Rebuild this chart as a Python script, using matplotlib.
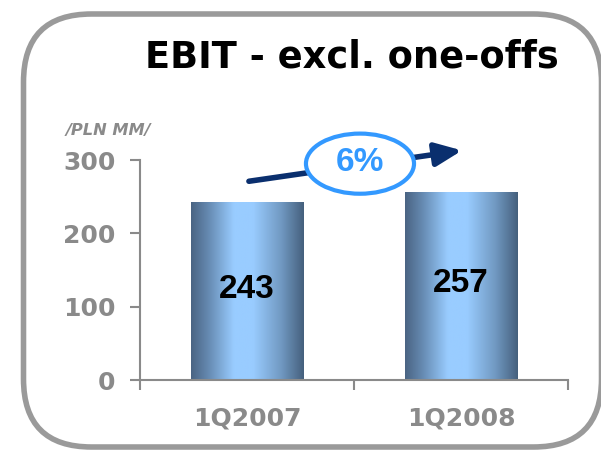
import numpy as np
import matplotlib
matplotlib.use("Agg")
import matplotlib.pyplot as plt
from matplotlib.colors import LinearSegmentedColormap
from matplotlib.patches import FancyBboxPatch, Ellipse

categories = ["1Q2007", "1Q2008"]
values = [243, 257]
growth_label = "6%"
yticks = [0, 100, 200, 300]

plt.rcParams['font.family'] = ['DejaVu Sans']
arial = ['Liberation Sans', 'DejaVu Sans']
gray = "#8a8a8a"

fig = plt.figure(figsize=(6.01, 4.5), dpi=100)
ax = fig.add_axes([140 / 601, 70 / 450, 428 / 601, 220 / 450])

# rounded frame around the whole panel
frame = FancyBboxPatch((0.235, 0.03), 5.78, 4.33,
                       boxstyle="round,pad=0,rounding_size=0.68",
                       transform=fig.dpi_scale_trans, fill=False,
                       edgecolor="#9a9a9a", linewidth=4.0, clip_on=False)
fig.patches.append(frame)

cmap = LinearSegmentedColormap.from_list("bar", [
    (0.0, "#4a6483"), (0.15, "#6589b0"), (0.38, "#99ccff"),
    (0.55, "#99ccff"), (0.8, "#7199c2"), (1.0, "#45607d")])
grad = np.linspace(0, 1, 256).reshape(1, -1)

x = np.arange(len(categories))
width = 0.525
bars = ax.bar(x, values, width=width, color="none", edgecolor="none", zorder=2)
for b in bars:
    x0, y0 = b.get_x(), b.get_y()
    im = ax.imshow(grad, cmap=cmap, aspect="auto", zorder=2,
                   extent=[x0, x0 + b.get_width(), y0, y0 + b.get_height()])
    im.set_clip_path(b)

for xi, v in zip(x, values):
    ax.text(xi, v * 0.51, str(v), ha="center", va="center", family=arial,
            fontsize=24, fontweight="bold", color="black", zorder=3)

ax.set_xlim(-0.5, 1.5)
ax.set_ylim(0, 300)
ax.set_yticks(yticks)
ax.set_yticklabels([str(t) for t in yticks])
ax.set_xticks(x)
ax.set_xticklabels(categories)
ax.set_xticks([-0.5, 0.5, 1.5], minor=True)
ax.tick_params(axis="y", direction="out", length=7, width=1.5, color=gray,
               pad=10.5, labelsize=18, labelcolor=gray)
ax.tick_params(axis="x", which="major", length=0, pad=19, labelsize=18,
               labelcolor=gray)
ax.tick_params(axis="x", which="minor", direction="out", length=7,
               width=1.5, color=gray)
for lab in ax.get_xticklabels() + ax.get_yticklabels():
    lab.set_fontweight("bold")
for s in ["top", "right"]:
    ax.spines[s].set_visible(False)
for s in ["left", "bottom"]:
    ax.spines[s].set_color(gray)
    ax.spines[s].set_linewidth(1.5)
ax.patch.set_visible(False)

# growth arrow with ellipse
ax.annotate("", xy=(1.005, 313), xytext=(0.009, 271),
            arrowprops=dict(arrowstyle="-|>,head_length=1.6,head_width=0.7",
                            color="#0a2f6e", lw=4.0, shrinkA=0, shrinkB=0),
            annotation_clip=False, zorder=4)
ell = Ellipse((0.528, 295), 0.505, 82, facecolor="white", edgecolor="#3399ff",
              linewidth=3, clip_on=False, zorder=5)
ax.add_patch(ell)
ax.text(0.528, 296, growth_label, ha="center", va="center", fontsize=24,
        family=arial, fontweight="bold", color="#3399ff", zorder=6,
        clip_on=False)

fig.text(351.5 / 601, 1 - 67.5 / 450, "EBIT - excl. one-offs", ha="center",
         va="baseline", fontsize=26.5, fontweight="bold", color="black")
fig.text(66 / 601, 1 - 135 / 450, "/PLN MM/", ha="left", va="baseline",
         fontsize=11.7, fontweight="bold", fontstyle="italic", color=gray)

fig.savefig("out.png", dpi=100)
